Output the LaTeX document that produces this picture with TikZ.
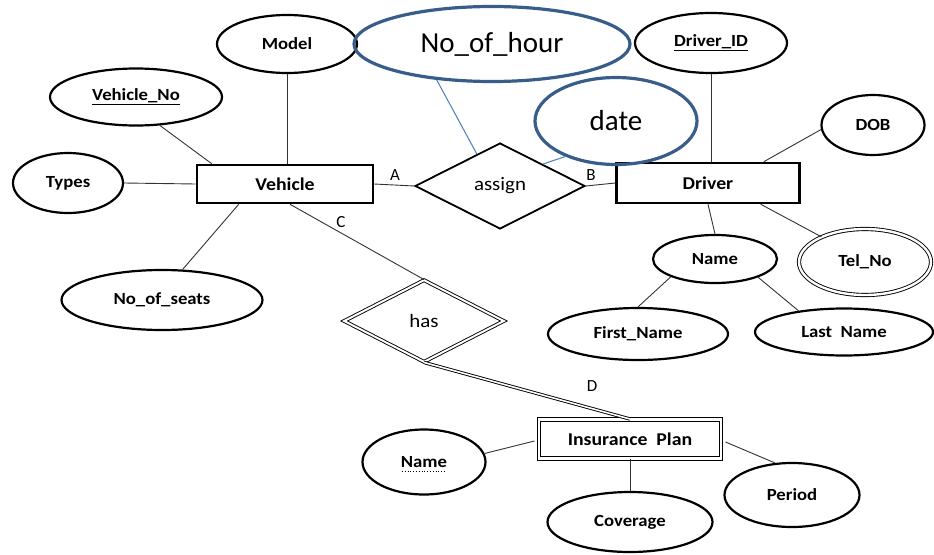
\documentclass[tikz,border=0pt]{standalone}
\usepackage{fontspec}
\setmainfont{Carlito}
\newfontfamily\erfont[FakeStretch=1.1]{Carlito}
\usetikzlibrary{shapes.geometric,calc}
\definecolor{shapeblue}{HTML}{385D8A}
\definecolor{lineblue}{HTML}{4A7EBB}

\begin{document}
\begin{tikzpicture}[x=1pt,y=-1pt,
  attr/.style={draw,ellipse,line width=2.2pt,inner sep=0pt,font=\erfont\bfseries\fontsize{17}{20}\selectfont},
  ent/.style={draw,rectangle,line width=2.6pt,inner sep=0pt,font=\erfont\bfseries\fontsize{18}{21}\selectfont},
  rel/.style={draw,diamond,line width=1.8pt,inner sep=0pt,font=\erfont\fontsize{19}{22}\selectfont},
  newattr/.style={draw=shapeblue,ellipse,line width=3.2pt,inner sep=0pt,font=\fontsize{29}{33}\selectfont},
  link/.style={line width=0.9pt,black!80},
  card/.style={font=\fontsize{17}{20}\selectfont}]
\useasboundingbox (0,0) rectangle (934,554);

% entities
\node[ent,minimum width=176pt,minimum height=38pt] (veh) at (285,184) {Vehicle};
\node[ent,minimum width=183pt,minimum height=40pt] (drv) at (708,183) {Driver};
\node[ent,line width=1pt,double,double distance=2.2pt,minimum width=182pt,minimum height=39pt] (ins) at (630,439) {Insurance~ Plan};

% relationships
\node[rel,minimum width=170pt,minimum height=86pt] (assign) at (500,186) {assign};
\node[rel,line width=0.9pt,double,double distance=2pt,minimum width=160pt,minimum height=82pt] (has) at (424,321) {has};

% attributes of Vehicle
\node[attr,minimum width=140pt,minimum height=58pt] (model) at (287,44) {Model};
\node[attr,minimum width=172pt,minimum height=57pt] (vno) at (136,97) {\underline{Vehicle\_No}};
\node[attr,minimum width=110pt,minimum height=60pt] (types) at (68,183) {Types};
\node[attr,minimum width=201pt,minimum height=60pt] (seats) at (162,300) {No\_of\_seats};

% attributes of assign
\node[newattr,minimum width=276pt,minimum height=75pt] (hour) at (492,44) {No\_of\_hour};
\node[newattr,minimum width=162pt,minimum height=87pt] (date) at (616,121) {date};

% attributes of Driver
\node[attr,minimum width=152pt,minimum height=60pt] (did) at (711,43) {\underline{Driver\_ID}};
\node[attr,minimum width=103pt,minimum height=60pt] (dob) at (873,125) {DOB};
\node[attr,line width=0.9pt,double,double distance=2.4pt,minimum width=132pt,minimum height=66pt] (tel) at (865,262) {Tel\_No};
\node[attr,minimum width=124pt,minimum height=48pt] (dname) at (715,259) {Name};
\node[attr,minimum width=180pt,minimum height=52pt] (fname) at (638,334) {First\_Name};
\node[attr,minimum width=178pt,minimum height=47pt] (lname) at (844,332) {Last~ Name};

% attributes of Insurance Plan
\node[attr,minimum width=123pt,minimum height=65pt] (iname) at (424,462) {Name};
\draw[dotted,line width=0.8pt] ([xshift=-22pt,yshift=-9pt]iname.center) -- ([xshift=22pt,yshift=-9pt]iname.center);
\node[attr,minimum width=165pt,minimum height=60pt] (cov) at (630,522) {Coverage};
\node[attr,minimum width=135pt,minimum height=64pt] (per) at (792,495) {Period};

% cardinality letters
\node[card] (lblA) at (395,175) {A};
\node[card] (lblB) at (591,175) {B};
\node[card] (lblC) at (341,222) {C};
\node[card] (lblD) at (592,386) {D};

% connectors
\draw[link] (model.south) -- (model.south |- veh.north);
\draw[link] (vno.-50) -- ([xshift=16pt]veh.north west);
\draw[link] (types.east) -- (veh.west);
\draw[link] ([xshift=43pt]veh.south west) -- (seats.56);
\draw[link] ([xshift=5pt]veh.south) -- (has.north);
\draw[link] (veh.east) -- (assign.west);
\draw[link] (assign.east) -- (drv.west);
\draw[lineblue,line width=1pt] (hour.213) -- ($(assign.west)!0.73!(assign.north)$);
\draw[lineblue,line width=1pt] (assign.north east) -- (date.215);
\draw[link] (did.south) -- (did.south |- drv.north);
\draw[link] (dob.185) -- ([xshift=-37pt]drv.north east);
\draw[link] ([xshift=-40pt]drv.south east) -- (tel.150);
\draw[link] (drv.south) -- (dname.north);
\draw[link] (dname.202) -- (fname.north);
\draw[link] (dname.-23) -- (lname.155);
\draw[line width=0.9pt,double,double distance=1.6pt] (has.south) -- (ins.north);
\draw[link] (iname.8) -- ([yshift=-2pt,xshift=-4pt]ins.west);
\draw[link] (ins.south) -- (cov.north);
\draw[link] ([xshift=4pt,yshift=-3pt]ins.east) -- (per.118);
\end{tikzpicture}
\end{document}
